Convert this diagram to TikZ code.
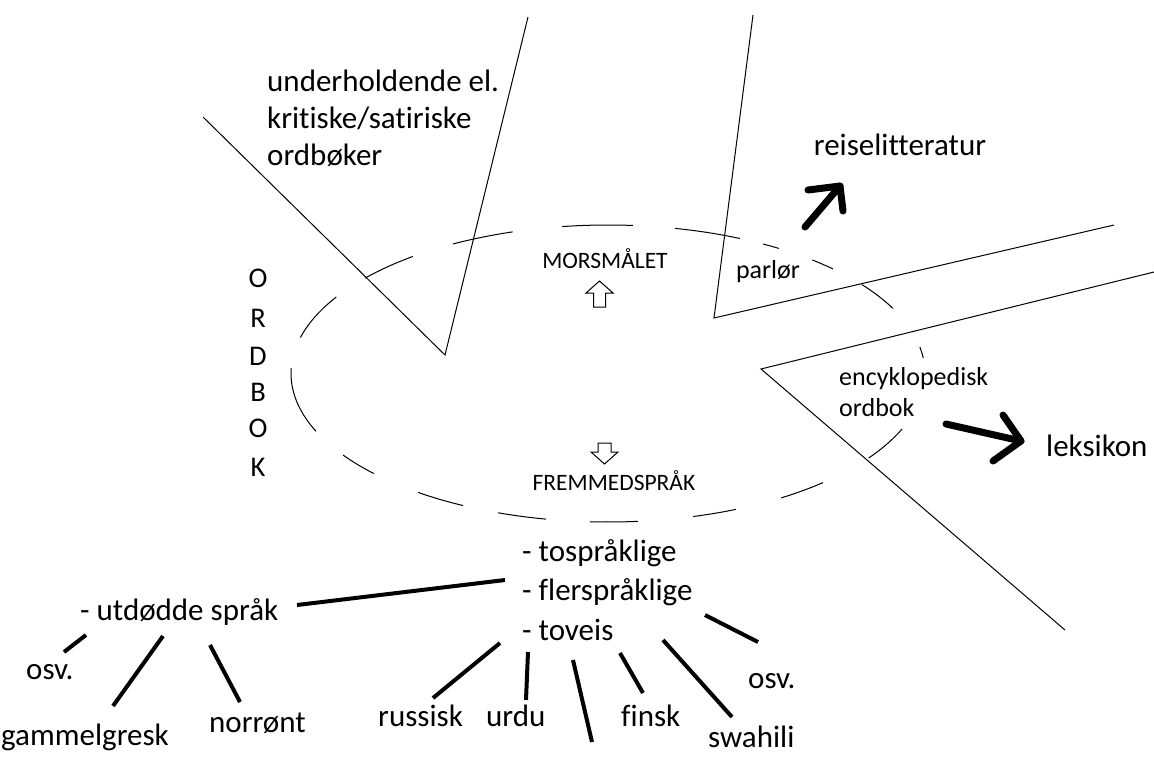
\documentclass[tikz,border=0pt]{standalone}
\usepackage{fontspec}
\setmainfont{Carlito}[Ligatures=NoCommon]
\begin{document}
\begin{tikzpicture}[x=1pt,y=-1pt,
  thinln/.style={line width=1pt,black},
  ell/.style={line width=1pt,black},
  branch/.style={line width=4pt,black},
  bigarrow/.style={line width=7pt,black,line cap=round,line join=round},
  hollow/.style={line width=1pt,black,fill=white},
  big/.style={inner sep=0pt,font=\fontsize{31}{36}\selectfont},
  mid/.style={inner sep=0pt,font=\fontsize{26}{30}\selectfont},
  small/.style={inner sep=0pt,font=\fontsize{23.5}{28}\selectfont},
]
\useasboundingbox (0,0) rectangle (1154,756);

% ---------- V shapes ----------
\coordinate (v1a) at (203,117);
\coordinate (v1) at (445,355);
\coordinate (v1b) at (528,17);
\draw[thinln] (v1a) -- (v1) -- (v1b);

\coordinate (v2a) at (753,15);
\coordinate (v2) at (714,318);
\coordinate (v2b) at (1114,225);
\draw[thinln] (v2a) -- (v2) -- (v2b);

\coordinate (v3a) at (1154,272);
\coordinate (v3) at (761,369);
\coordinate (v3b) at (1065,630);
\draw[thinln] (v3a) -- (v3) -- (v3b);

% ---------- dashed ellipse ----------
\coordinate (E) at (608,373.5);
\foreach \a/\b in {-149/-166,-128/-140,-107.5/-119.3,-85.5/-98.3,-65.4/-77.8,
                   -57.4/-60.7,-44.8/-49.9,-26/-36.8,-6/-10.3,22/34.7,47.3/56.9,
                   66.2/74.4,84.6/93.3,101.3/110.3,117.2/126.8,137.6/146.7,157.1/182.1}
  \draw[ell] (E) ++(\a:317 and 148.5) arc[start angle=\a,end angle=\b,x radius=317,y radius=148.5];

% ---------- texts ----------
\node[big,anchor=base west] (u1) at (267,91) {underholdende el.};
\node[big,anchor=base west] (u2) at (267,128) {kritiske/satiriske};
\node[big,anchor=base west] (u3) at (267,165) {ordbøker};

\node[big,anchor=base] (reise) at (900,155) {reiselitteratur};
\node[big,anchor=base west] (leks) at (1046,456) {leksikon};
\node[mid,anchor=base west] (enc1) at (839,385) {encyklopedisk};
\node[mid,anchor=base west] (enc2) at (839,416) {ordbok};
\node[mid,anchor=base] (parl) at (768,278) {parlør};
\node[small,anchor=base] (mors) at (605,268) {MORSMÅLET};
\node[small,anchor=base] (frem) at (614,490) {FREMMEDSPRÅK};

\foreach \l/\y [count=\i] in {O/287,R/327,D/365,B/401,O/437,K/476}
  \node[inner sep=0pt,anchor=base,font=\fontsize{28.5}{34}\selectfont] (ord\i) at (258,\y) {\l};

% ---------- hollow arrows ----------
\draw[hollow] (593.5,307) -- (593.5,293) -- (586,293) -- (599.5,281) -- (613,293)
  -- (605.5,293) -- (605.5,307) -- cycle;
\draw[hollow] (598,443) -- (611,443) -- (611,452) -- (618,452) -- (604.5,464)
  -- (591,452) -- (598,452) -- cycle;

% ---------- bold arrows ----------
\coordinate (ra0) at (805,227);
\coordinate (ra1) at (840,186);
\draw[bigarrow] (ra0) -- (ra1);
\draw[bigarrow] (808,190) -- (ra1) -- (843,211);
\coordinate (la0) at (946,424);
\coordinate (la1) at (1021,441);
\draw[bigarrow] (la0) -- (la1);
\draw[bigarrow] (1003,415) -- (la1) -- (993,461);

% ---------- tree ----------
\node[big,anchor=base west] (t1) at (522,561) {- tospråklige};
\node[big,anchor=base west] (t2) at (522,600) {- flerspråklige};
\node[big,anchor=base west] (t3) at (522,640) {- toveis};
\node[big,anchor=base west] (ut) at (80,620) {- utdødde språk};
\node[big,anchor=base west] (osvl) at (26,679) {osv.};
\node[big,anchor=base west] (gam) at (1,745) {gammelgresk};
\node[big,anchor=base west] (nor) at (209,732) {norrønt};
\node[big,anchor=base west] (rus) at (378,726) {russisk};
\node[big,anchor=base west] (urdu) at (486,726) {urdu};
\node[big,anchor=base west] (fin) at (621,726) {finsk};
\node[big,anchor=base west] (swa) at (708,747) {swahili};
\node[big,anchor=base west] (osvr) at (748,688) {osv.};

\coordinate (b0a) at (297,605); \coordinate (b0b) at (505,580);
\coordinate (b1a) at (64,652);  \coordinate (b1b) at (86,635);
\coordinate (b2a) at (113,706); \coordinate (b2b) at (163,636);
\coordinate (b3a) at (210,645); \coordinate (b3b) at (240,702);
\coordinate (b4a) at (433,698); \coordinate (b4b) at (500,643);
\coordinate (b5a) at (528,652); \coordinate (b5b) at (526,700);
\coordinate (b6a) at (573,660); \coordinate (b6b) at (592,742);
\coordinate (b7a) at (620,653); \coordinate (b7b) at (643,693);
\coordinate (b8a) at (663,640); \coordinate (b8b) at (732,717);
\coordinate (b9a) at (705,615); \coordinate (b9b) at (758,642);
\foreach \i in {0,...,9} \draw[branch] (b\i a) -- (b\i b);
\end{tikzpicture}
\end{document}
